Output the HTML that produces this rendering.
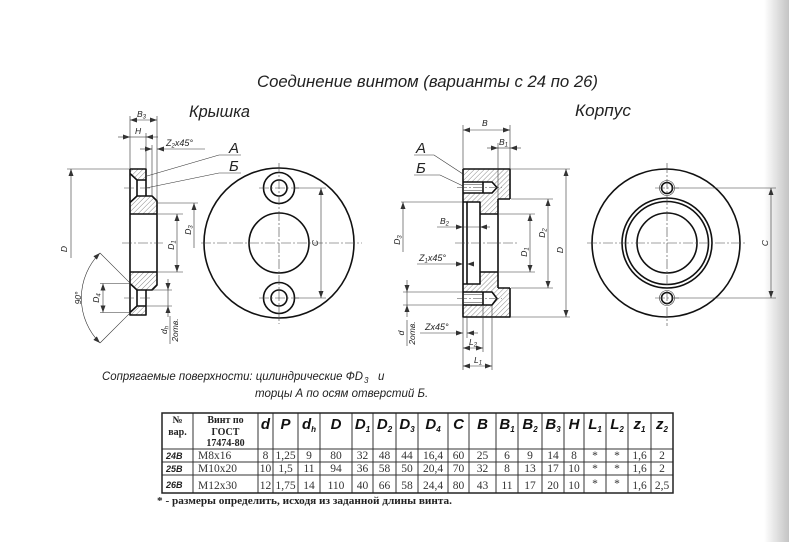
<!DOCTYPE html>
<html><head><meta charset="utf-8">
<style>
html,body{margin:0;padding:0;background:#fff;}
svg{display:block;}
text{font-family:"Liberation Sans","DejaVu Sans",sans-serif;font-style:italic;fill:#222;}
.k{stroke:#111;stroke-width:1.6;fill:none;stroke-linejoin:round;}
.n{stroke:#333;stroke-width:0.6;fill:none;}
.c{stroke:#444;stroke-width:0.6;fill:none;stroke-dasharray:10,2,2,2;}
.h{fill:url(#hp);stroke:none;}
.sm{font-size:8.5px;}
.hs{font-family:"Liberation Sans",sans-serif;font-weight:bold;font-style:italic;font-size:15px;fill:#111;}
.sr{font-family:"Liberation Serif",serif;font-style:normal;font-size:11.5px;fill:#333;}
.sb{font-family:"Liberation Serif",serif;font-style:normal;font-weight:bold;font-size:10px;fill:#222;}
.rv{font-family:"Liberation Sans",sans-serif;font-weight:bold;font-style:italic;font-size:9px;fill:#222;}
.tb{stroke:#333;stroke-width:1;}
</style></head>
<body>
<svg width="789" height="542" viewBox="0 0 789 542" xmlns="http://www.w3.org/2000/svg">
<defs>
<marker id="ar" markerWidth="8" markerHeight="6" refX="7" refY="2.5" orient="auto-start-reverse" markerUnits="userSpaceOnUse"><path d="M0,0 L7,2.5 L0,5 Z" fill="#333"/></marker>
<pattern id="hp" width="3.5" height="3.5" patternUnits="userSpaceOnUse" patternTransform="rotate(45)"><line x1="0" y1="0" x2="0" y2="3.5" stroke="#555" stroke-width="0.7"/></pattern>
<linearGradient id="gs" x1="0" x2="1" y1="0" y2="0"><stop offset="0" stop-color="#fff"/><stop offset="1" stop-color="#c4c4c4"/></linearGradient>
</defs>
<rect x="0" y="0" width="789" height="542" fill="#fff"/>
<rect x="764" y="0" width="25" height="542" fill="url(#gs)"/>

<!-- Titles -->
<text x="257" y="87" font-size="17" textLength="341" lengthAdjust="spacingAndGlyphs">Соединение винтом (варианты с 24 по 26)</text>
<text x="189" y="117" font-size="17" textLength="61" lengthAdjust="spacingAndGlyphs">Крышка</text>
<text x="575" y="116" font-size="17" textLength="56" lengthAdjust="spacingAndGlyphs">Корпус</text>

<!-- ===== Крышка section ===== -->
<path class="h" d="M130,169 H146 V180 H137 L130,173.5 Z"/>
<path class="h" d="M130,202.5 L137,196 H152 L157,201 V214 H130 Z"/>
<path class="h" d="M130,272 H157 V285 L152,290 H137 L130,283.5 Z"/>
<path class="h" d="M130,312.5 L137,306 H146 V315 H130 Z"/>
<path class="k" d="M130,169 V315 H146 V306 M130,169 H146 V180"/>
<path class="k" d="M130,173.5 L137,180 H146 M137,180 V196 M146,180 V196"/>
<path class="k" d="M130,202.5 L137,196 H152 L157,201 V285 L152,290 H137 L130,283.5"/>
<path class="k" d="M137,290 V306 M146,290 V306 M130,312.5 L137,306 H146"/>
<path class="k" d="M130,214 H157 M130,272 H157"/>
<path class="c" d="M122,243 H163 M124,188 H152 M124,298 H152"/>
<path class="n" d="M130,169 V116 M157,201 V116 M146,169 V133 M152,196 V145"/>
<line class="n" x1="130" y1="120" x2="157" y2="120" marker-start="url(#ar)" marker-end="url(#ar)"/>
<text class="sm" x="137" y="117">B<tspan font-size="6" dy="1.5">3</tspan></text>
<line class="n" x1="118" y1="137" x2="130" y2="137" marker-end="url(#ar)"/>
<line class="n" x1="158" y1="137" x2="146" y2="137" marker-end="url(#ar)"/>
<line class="n" x1="130" y1="137" x2="146" y2="137"/>
<text class="sm" x="135" y="134">H</text>
<line class="n" x1="140" y1="149" x2="152" y2="149" marker-end="url(#ar)"/>
<line class="n" x1="205" y1="149" x2="157" y2="149" marker-end="url(#ar)"/>
<text font-size="9" x="166" y="146">Z<tspan font-size="6" dy="1.5">2</tspan><tspan dy="-1.5">x45°</tspan></text>
<text font-size="15" x="229" y="153">А</text>
<text font-size="15" x="229" y="171">Б</text>
<path class="n" d="M219,155 H241 M219,155 L147,176 M219,173 H241 M219,173 L146,188"/>
<path class="n" d="M67,169 H130"/>
<line class="n" x1="71" y1="169" x2="71" y2="258" marker-start="url(#ar)"/>
<text class="sm" transform="translate(67,249) rotate(-90)" text-anchor="middle">D</text>
<path class="n" d="M158,214 H183 M158,272 H183"/>
<line class="n" x1="177" y1="214" x2="177" y2="272" marker-start="url(#ar)" marker-end="url(#ar)"/>
<text class="sm" transform="translate(174,245) rotate(-90)" text-anchor="middle">D<tspan font-size="6" dy="1.5">1</tspan></text>
<path class="n" d="M158,203 H198"/>
<line class="n" x1="194" y1="203" x2="194" y2="248" marker-start="url(#ar)"/>
<text class="sm" transform="translate(191,230) rotate(-90)" text-anchor="middle">D<tspan font-size="6" dy="1.5">3</tspan></text>
<path class="n" d="M100,283.5 H130 M100,312.5 H130"/>
<line class="n" x1="103" y1="283.5" x2="103" y2="312.5" marker-start="url(#ar)" marker-end="url(#ar)"/>
<text class="sm" transform="translate(99,298) rotate(-90)" text-anchor="middle">D<tspan font-size="6" dy="1.5">4</tspan></text>
<path class="n" d="M147,290 H172 M147,306 H172"/>
<line class="n" x1="168" y1="279" x2="168" y2="290" marker-end="url(#ar)"/>
<line class="n" x1="168" y1="317" x2="168" y2="306" marker-end="url(#ar)"/>
<line class="n" x1="168" y1="290" x2="168" y2="306"/>
<g transform="translate(170,330) rotate(-90)">
<line class="n" x1="-14" y1="0" x2="14" y2="0"/>
<text class="sm" x="0" y="-3" text-anchor="middle">d<tspan font-size="6" dy="1.5">h</tspan></text>
<text class="sm" x="0" y="8" text-anchor="middle">2отв.</text>
</g>
<path class="n" d="M100,253 L131,284 M100,343 L131,312"/>
<path class="n" d="M100,253 A63.6,63.6 0 0 0 100,343" marker-start="url(#ar)" marker-end="url(#ar)"/>
<text class="sm" transform="translate(81,298) rotate(-90)" text-anchor="middle">90°</text>

<!-- ===== Крышка view ===== -->
<circle class="k" cx="279" cy="243" r="75"/>
<circle class="k" cx="279" cy="243" r="30"/>
<circle class="k" cx="279" cy="188" r="15.5"/>
<circle class="k" cx="279" cy="188" r="8"/>
<circle class="k" cx="279" cy="298" r="15.5"/>
<circle class="k" cx="279" cy="298" r="8"/>
<path class="c" d="M201,243 H362 M279,163 V324 M259,188 H299 M259,298 H299"/>
<path class="n" d="M295,188 H326 M295,298 H326"/>
<line class="n" x1="321" y1="188" x2="321" y2="298" marker-start="url(#ar)" marker-end="url(#ar)"/>
<text class="sm" transform="translate(318,243) rotate(-90)" text-anchor="middle">C</text>

<!-- ===== Корпус section ===== -->
<path class="h" d="M463,169 H510 V199 H498 V214 H480 V202 H463 Z"/>
<path class="h" d="M463,284 H480 V272 H498 V288 H510 V317 H463 Z"/>
<path d="M463,182 H492 L497,187.5 L492,193 H463 Z" fill="#fff"/>
<path d="M463,292 H492 L497,298.5 L492,305 H463 Z" fill="#fff"/>
<path class="k" d="M463,169 H510 V199 M510,288 V317 H463 V169"/>
<path class="k" d="M463,202 H480 V284 H463 M467,202 V284"/>
<path class="k" d="M480,214 H498 M480,272 H498 M498,199 H510 M498,288 H510 M498,199 V288"/>
<path class="k" d="M463,182 H492 L497,187.5 L492,193 H463 M483,182 V193"/>
<path class="k" d="M463,292 H492 L497,298.5 L492,305 H463 M483,292 V305"/>
<path class="n" d="M463,184.5 H483 M463,190.5 H483 M463,294.5 H483 M463,302.5 H483"/>
<path class="c" d="M455,243 H518 M457,187.5 H502 M457,298.5 H502"/>
<path class="n" d="M463,169 V125 M510,169 V125 M498,199 V143"/>
<line class="n" x1="463" y1="130" x2="510" y2="130" marker-start="url(#ar)" marker-end="url(#ar)"/>
<text class="sm" x="482" y="126">B</text>
<line class="n" x1="487" y1="148" x2="498" y2="148" marker-end="url(#ar)"/>
<line class="n" x1="521" y1="148" x2="510" y2="148" marker-end="url(#ar)"/>
<line class="n" x1="498" y1="148" x2="510" y2="148"/>
<text class="sm" x="499" y="145">B<tspan font-size="6" dy="1.5">1</tspan></text>
<text font-size="15" x="416" y="153">А</text>
<text font-size="15" x="416" y="173">Б</text>
<path class="n" d="M414,155 H434 L463,174 M414,175 H440 L463,186"/>
<line class="n" x1="437" y1="227" x2="463" y2="227" marker-end="url(#ar)"/>
<line class="n" x1="490" y1="227" x2="480" y2="227" marker-end="url(#ar)"/>
<line class="n" x1="463" y1="227" x2="480" y2="227"/>
<text class="sm" x="440" y="224">B<tspan font-size="6" dy="1.5">2</tspan></text>
<line class="n" x1="417" y1="264" x2="463" y2="264" marker-end="url(#ar)"/>
<line class="n" x1="473" y1="264" x2="467" y2="264" marker-end="url(#ar)"/>
<text font-size="9" x="419" y="261">Z<tspan font-size="6" dy="1.5">1</tspan><tspan dy="-1.5">x45°</tspan></text>
<path class="n" d="M401,202 H463"/>
<line class="n" x1="403" y1="202" x2="403" y2="252" marker-start="url(#ar)"/>
<text class="sm" transform="translate(400,240) rotate(-90)" text-anchor="middle">D<tspan font-size="6" dy="1.5">3</tspan></text>
<path class="n" d="M403,292 H463 M403,305 H463"/>
<line class="n" x1="407" y1="280" x2="407" y2="292" marker-end="url(#ar)"/>
<line class="n" x1="407" y1="317" x2="407" y2="305" marker-end="url(#ar)"/>
<line class="n" x1="407" y1="292" x2="407" y2="305"/>
<g transform="translate(407,333) rotate(-90)">
<line class="n" x1="-13" y1="0" x2="13" y2="0"/>
<text class="sm" x="0" y="-3" text-anchor="middle">d</text>
<text class="sm" x="0" y="8" text-anchor="middle">2отв.</text>
</g>
<path class="n" d="M467,317 V338 M463,317 V370 M483,305 V352 M492,305 V370"/>
<line class="n" x1="420" y1="333" x2="463" y2="333" marker-end="url(#ar)"/>
<line class="n" x1="478" y1="333" x2="467" y2="333" marker-end="url(#ar)"/>
<text font-size="9" x="425" y="330">Zx45°</text>
<line class="n" x1="463" y1="348" x2="483" y2="348" marker-start="url(#ar)" marker-end="url(#ar)"/>
<text class="sm" x="469" y="345">L<tspan font-size="6" dy="1.5">2</tspan></text>
<line class="n" x1="463" y1="366" x2="492" y2="366" marker-start="url(#ar)" marker-end="url(#ar)"/>
<text class="sm" x="474" y="363">L<tspan font-size="6" dy="1.5">1</tspan></text>
<path class="n" d="M499,214 H535 M499,272 H535 M511,199 H553 M511,288 H553 M511,169 H570 M511,317 H570"/>
<line class="n" x1="530" y1="214" x2="530" y2="272" marker-start="url(#ar)" marker-end="url(#ar)"/>
<text class="sm" transform="translate(527,252) rotate(-90)" text-anchor="middle">D<tspan font-size="6" dy="1.5">1</tspan></text>
<line class="n" x1="548" y1="199" x2="548" y2="288" marker-start="url(#ar)" marker-end="url(#ar)"/>
<text class="sm" transform="translate(545,233) rotate(-90)" text-anchor="middle">D<tspan font-size="6" dy="1.5">2</tspan></text>
<line class="n" x1="566" y1="169" x2="566" y2="317" marker-start="url(#ar)" marker-end="url(#ar)"/>
<text class="sm" transform="translate(563,250) rotate(-90)" text-anchor="middle">D</text>

<!-- ===== Корпус view ===== -->
<circle class="k" cx="666" cy="243" r="74"/>
<circle class="k" cx="667" cy="243" r="45"/>
<circle class="k" cx="667" cy="243" r="41.5"/>
<circle class="k" cx="667" cy="243" r="30"/>
<circle class="k" cx="667" cy="188" r="5.5"/>
<circle class="n" cx="667" cy="188" r="7.5"/>
<circle class="k" cx="667" cy="298" r="5.5"/>
<circle class="n" cx="667" cy="298" r="7.5"/>
<path class="c" d="M587,243 H747 M667,163 V326 M655,188 H679 M655,298 H679"/>
<path class="n" d="M675,188 H776 M675,298 H776"/>
<line class="n" x1="771" y1="188" x2="771" y2="298" marker-start="url(#ar)" marker-end="url(#ar)"/>
<text class="sm" transform="translate(768,243) rotate(-90)" text-anchor="middle">C</text>

<!-- Caption -->
<text font-size="11.5" x="102" y="380" textLength="261" lengthAdjust="spacingAndGlyphs">Сопрягаемые поверхности: цилиндрические ФD</text>
<text font-size="8" x="364" y="383">3</text>
<text font-size="11.5" x="378" y="380">и</text>
<text font-size="11.5" x="255" y="397">торцы А по осям отверстий Б.</text>

<!-- ===== Table ===== -->
<g class="tb">
<path d="M162,449 H673 M162,462 H673 M162,475 H673"/>
<path d="M193,413 V493 M258,413 V493 M273,413 V493 M298,413 V493 M320,413 V493 M352,413 V493 M373,413 V493 M396,413 V493 M418,413 V493 M448,413 V493 M469,413 V493 M496,413 V493 M518,413 V493 M542,413 V493 M564,413 V493 M584,413 V493 M606,413 V493 M628,413 V493 M651,413 V493"/>
<rect x="162" y="413" width="511" height="80" fill="none" stroke="#222" stroke-width="1.5"/>
</g>
<text class="sb" x="177.5" y="423" text-anchor="middle">№</text>
<text class="sb" x="177.5" y="435" text-anchor="middle">вар.</text>
<text class="sb" x="225.5" y="423" text-anchor="middle">Винт по</text>
<text class="sb" x="225.5" y="435" text-anchor="middle">ГОСТ</text>
<text class="sb" x="225.5" y="446" text-anchor="middle">17474-80</text>
<text class="hs" x="265.5" y="429" text-anchor="middle">d</text>
<text class="hs" x="285.5" y="429" text-anchor="middle">P</text>
<text class="hs" x="309" y="429" text-anchor="middle">d<tspan font-size="8" dy="3">h</tspan></text>
<text class="hs" x="336" y="429" text-anchor="middle">D</text>
<text class="hs" x="362.5" y="429" text-anchor="middle">D<tspan font-size="8" dy="3">1</tspan></text>
<text class="hs" x="384.5" y="429" text-anchor="middle">D<tspan font-size="8" dy="3">2</tspan></text>
<text class="hs" x="407" y="429" text-anchor="middle">D<tspan font-size="8" dy="3">3</tspan></text>
<text class="hs" x="433" y="429" text-anchor="middle">D<tspan font-size="8" dy="3">4</tspan></text>
<text class="hs" x="458.5" y="429" text-anchor="middle">C</text>
<text class="hs" x="482.5" y="429" text-anchor="middle">B</text>
<text class="hs" x="507" y="429" text-anchor="middle">B<tspan font-size="8" dy="3">1</tspan></text>
<text class="hs" x="530" y="429" text-anchor="middle">B<tspan font-size="8" dy="3">2</tspan></text>
<text class="hs" x="553" y="429" text-anchor="middle">B<tspan font-size="8" dy="3">3</tspan></text>
<text class="hs" x="574" y="429" text-anchor="middle">H</text>
<text class="hs" x="595" y="429" text-anchor="middle">L<tspan font-size="8" dy="3">1</tspan></text>
<text class="hs" x="617" y="429" text-anchor="middle">L<tspan font-size="8" dy="3">2</tspan></text>
<text class="hs" x="639.5" y="429" text-anchor="middle">z<tspan font-size="8" dy="3">1</tspan></text>
<text class="hs" x="662" y="429" text-anchor="middle">z<tspan font-size="8" dy="3">2</tspan></text>

<text class="rv" x="166" y="459">24В</text>
<text class="sr" x="198" y="459">M8x16</text>
<text class="sr" x="265.5" y="459" text-anchor="middle">8</text>
<text class="sr" x="285.5" y="459" text-anchor="middle">1,25</text>
<text class="sr" x="309" y="459" text-anchor="middle">9</text>
<text class="sr" x="336" y="459" text-anchor="middle">80</text>
<text class="sr" x="362.5" y="459" text-anchor="middle">32</text>
<text class="sr" x="384.5" y="459" text-anchor="middle">48</text>
<text class="sr" x="407" y="459" text-anchor="middle">44</text>
<text class="sr" x="433" y="459" text-anchor="middle">16,4</text>
<text class="sr" x="458.5" y="459" text-anchor="middle">60</text>
<text class="sr" x="482.5" y="459" text-anchor="middle">25</text>
<text class="sr" x="507" y="459" text-anchor="middle">6</text>
<text class="sr" x="530" y="459" text-anchor="middle">9</text>
<text class="sr" x="553" y="459" text-anchor="middle">14</text>
<text class="sr" x="574" y="459" text-anchor="middle">8</text>
<text class="sr" x="595" y="459" text-anchor="middle" font-size="9">*</text>
<text class="sr" x="617" y="459" text-anchor="middle" font-size="9">*</text>
<text class="sr" x="639.5" y="459" text-anchor="middle">1,6</text>
<text class="sr" x="662" y="459" text-anchor="middle">2</text>

<text class="rv" x="166" y="472">25В</text>
<text class="sr" x="198" y="472">M10x20</text>
<text class="sr" x="265.5" y="472" text-anchor="middle">10</text>
<text class="sr" x="285.5" y="472" text-anchor="middle">1,5</text>
<text class="sr" x="309" y="472" text-anchor="middle">11</text>
<text class="sr" x="336" y="472" text-anchor="middle">94</text>
<text class="sr" x="362.5" y="472" text-anchor="middle">36</text>
<text class="sr" x="384.5" y="472" text-anchor="middle">58</text>
<text class="sr" x="407" y="472" text-anchor="middle">50</text>
<text class="sr" x="433" y="472" text-anchor="middle">20,4</text>
<text class="sr" x="458.5" y="472" text-anchor="middle">70</text>
<text class="sr" x="482.5" y="472" text-anchor="middle">32</text>
<text class="sr" x="507" y="472" text-anchor="middle">8</text>
<text class="sr" x="530" y="472" text-anchor="middle">13</text>
<text class="sr" x="553" y="472" text-anchor="middle">17</text>
<text class="sr" x="574" y="472" text-anchor="middle">10</text>
<text class="sr" x="595" y="472" text-anchor="middle" font-size="9">*</text>
<text class="sr" x="617" y="472" text-anchor="middle" font-size="9">*</text>
<text class="sr" x="639.5" y="472" text-anchor="middle">1,6</text>
<text class="sr" x="662" y="472" text-anchor="middle">2</text>

<text class="rv" x="166" y="488">26В</text>
<text class="sr" x="198" y="489">M12x30</text>
<text class="sr" x="265.5" y="489" text-anchor="middle">12</text>
<text class="sr" x="285.5" y="489" text-anchor="middle">1,75</text>
<text class="sr" x="309" y="489" text-anchor="middle">14</text>
<text class="sr" x="336" y="489" text-anchor="middle">110</text>
<text class="sr" x="362.5" y="489" text-anchor="middle">40</text>
<text class="sr" x="384.5" y="489" text-anchor="middle">66</text>
<text class="sr" x="407" y="489" text-anchor="middle">58</text>
<text class="sr" x="433" y="489" text-anchor="middle">24,4</text>
<text class="sr" x="458.5" y="489" text-anchor="middle">80</text>
<text class="sr" x="482.5" y="489" text-anchor="middle">43</text>
<text class="sr" x="507" y="489" text-anchor="middle">11</text>
<text class="sr" x="530" y="489" text-anchor="middle">17</text>
<text class="sr" x="553" y="489" text-anchor="middle">20</text>
<text class="sr" x="574" y="489" text-anchor="middle">10</text>
<text class="sr" x="595" y="487" text-anchor="middle" font-size="9">*</text>
<text class="sr" x="617" y="487" text-anchor="middle" font-size="9">*</text>
<text class="sr" x="639.5" y="489" text-anchor="middle">1,6</text>
<text class="sr" x="662" y="489" text-anchor="middle">2,5</text>

<text class="sb" x="157" y="504" font-size="10.5" textLength="295" lengthAdjust="spacingAndGlyphs">* - размеры определить, исходя из заданной длины винта.</text>
</svg>
</body></html>
